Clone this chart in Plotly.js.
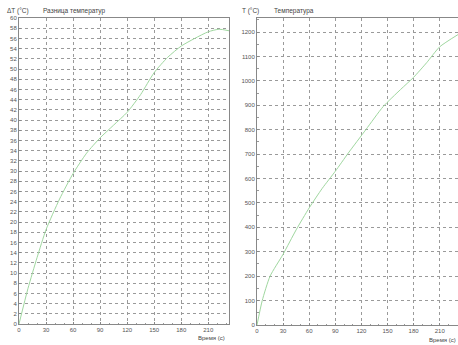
<!DOCTYPE html>
<html><head><meta charset="utf-8">
<script src="https://cdn.plot.ly/plotly-3.0.1.min.js"></script>
<style>body{margin:0;background:#fff}#c{width:458px;height:345px}</style>
</head><body><div id="c"></div>
<script>
// Left panel: temperature difference
const timeDelta = [0, 10, 20, 30, 45, 60, 75, 90, 105, 120, 135, 150, 165, 180, 195, 210, 222, 233];
const deltaT    = [0, 7, 13, 18.5, 24.5, 29.5, 33.5, 36.5, 39, 41.5, 45, 49.3, 52.3, 54.5, 56, 57.3, 57.8, 57.5];
// Right panel: temperature
const timeTemp = [0, 6, 15, 30, 45, 60, 75, 90, 105, 125, 145, 165, 180, 195, 210, 231];
const temp     = [0, 100, 200, 290, 390, 480, 560, 630, 705, 800, 895, 965, 1015, 1075, 1140, 1190];

const xTicks = [0, 30, 60, 90, 120, 150, 180, 210];
const leftTitle = 'Разница температур';
const rightTitle = 'Температура';
const leftUnit = 'ΔT (°C)';
const rightUnit = 'T (°C)';
const xTitle = 'Время (с)';

const W = 458, H = 345;
const lineColor = '#9fd79f';
const gridC = '#9a9a9a';
const font = {family: 'Liberation Sans, Arial, sans-serif', size: 6, color: '#555'};

function axBase() {
  return {
    showline: true, mirror: true, linecolor: '#888', linewidth: 1,
    showgrid: true, gridcolor: gridC, griddash: 'dot', gridwidth: 1,
    zeroline: false, ticks: 'inside', ticklen: 2, tickcolor: '#888',
    tickfont: font, fixedrange: true
  };
}

const traces = [
  {x: timeDelta, y: deltaT, type: 'scatter', mode: 'lines', line: {color: lineColor, width: 1, shape: 'spline', smoothing: 0.6}, xaxis: 'x', yaxis: 'y', hoverinfo: 'skip'},
  {x: timeTemp, y: temp, type: 'scatter', mode: 'lines', line: {color: lineColor, width: 1, shape: 'spline', smoothing: 0.6}, xaxis: 'x2', yaxis: 'y2', hoverinfo: 'skip'}
];

const layout = {
  width: W, height: H,
  margin: {l: 0, r: 0, t: 0, b: 0},
  paper_bgcolor: '#ffffff', plot_bgcolor: '#ffffff',
  showlegend: false,
  font: font,
  xaxis: Object.assign(axBase(), {domain: [19 / W, 229 / W], range: [0, 233], tickvals: xTicks, anchor: 'y',
    minor: {dtick: 10, ticks: 'inside', ticklen: 1.5, tickcolor: '#999', showgrid: false}}),
  yaxis: Object.assign(axBase(), {domain: [(H - 324) / H, (H - 18) / H], range: [0, 60], dtick: 2, anchor: 'x'}),
  xaxis2: Object.assign(axBase(), {domain: [257 / W, 1], range: [0, 231], tickvals: xTicks, anchor: 'y2',
    minor: {dtick: 10, ticks: 'inside', ticklen: 1.5, tickcolor: '#999', showgrid: false}}),
  yaxis2: Object.assign(axBase(), {domain: [(H - 325) / H, (H - 18) / H], range: [0, 1258], dtick: 100, anchor: 'x2',
    minor: {dtick: 50, ticks: 'inside', ticklen: 1.5, tickcolor: '#999', showgrid: false}}),
  annotations: [
    {text: leftUnit, x: 5 / W, y: 1 - 11 / H, xref: 'paper', yref: 'paper', xanchor: 'left', yanchor: 'middle', showarrow: false, font: {family: font.family, size: 6.5, color: '#444'}},
    {text: leftTitle, x: 41 / W, y: 1 - 11 / H, xref: 'paper', yref: 'paper', xanchor: 'left', yanchor: 'middle', showarrow: false, font: {family: font.family, size: 6.5, color: '#444'}},
    {text: rightUnit, x: 240 / W, y: 1 - 11 / H, xref: 'paper', yref: 'paper', xanchor: 'left', yanchor: 'middle', showarrow: false, font: {family: font.family, size: 6.5, color: '#444'}},
    {text: rightTitle, x: 272 / W, y: 1 - 11 / H, xref: 'paper', yref: 'paper', xanchor: 'left', yanchor: 'middle', showarrow: false, font: {family: font.family, size: 6.5, color: '#444'}},
    {text: xTitle, x: 227 / W, y: 1 - 338 / H, xref: 'paper', yref: 'paper', xanchor: 'right', yanchor: 'middle', showarrow: false, font: {family: font.family, size: 6, color: '#444'}},
    {text: xTitle, x: 458 / W, y: 1 - 340 / H, xref: 'paper', yref: 'paper', xanchor: 'right', yanchor: 'middle', showarrow: false, font: {family: font.family, size: 6, color: '#444'}}
  ]
};

Plotly.newPlot('c', traces, layout, {staticPlot: true, displayModeBar: false});
</script>
</body></html>
